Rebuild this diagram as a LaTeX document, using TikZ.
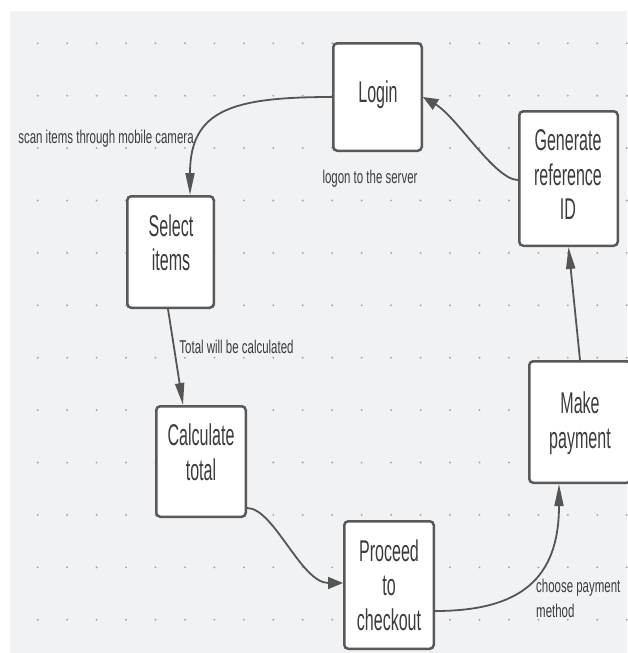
\documentclass[tikz,border=0pt]{standalone}
\usepackage{fontspec}
\setmainfont{Liberation Sans}[FakeStretch=0.56]
\newfontfamily\boxfont{Liberation Sans}[FakeStretch=0.535]
\newfontfamily\lblfont{Liberation Sans}[FakeStretch=0.62]
\usetikzlibrary{arrows.meta}
\definecolor{bgc}{HTML}{F1F2F4}
\definecolor{dotc}{HTML}{A8A9AD}
\definecolor{boxc}{HTML}{595959}
\definecolor{linec}{HTML}{555555}
\definecolor{txtc}{HTML}{3C3C3C}
\tikzset{
  box/.style={draw=boxc, fill=white, line width=2.5pt, rounded corners=4pt, inner sep=0pt},
  boxtext/.style={text=txtc, font=\boxfont\fontsize{30}{34.5}\selectfont, align=center, inner sep=0pt},
  lbl/.style={text=txtc, font=\lblfont\fontsize{18.5}{25}\selectfont, inner sep=0pt},
  conn/.style={draw=linec, line width=1.8pt},
  vtip/.style={-{Triangle[length=22pt,width=9pt]}},
  htip/.style={-{Triangle[length=15pt,width=12pt]}}
}
\begin{document}
\begin{tikzpicture}[x=1pt,y=-1pt]
\useasboundingbox (0,0) rectangle (627,653);
\fill[white] (0,0) rectangle (627,653);
\fill[bgc] (10,11) rectangle (627,653);
\foreach \i in {0,...,20}{
  \foreach \j in {0,...,11}{
    \fill[dotc] (37.7+29.45*\i, 43.3+52.4*\j) circle[radius=1.1pt];
  }
}
% boxes
\node[box, minimum width=88.5pt, minimum height=107.5pt] (login) at (377.5,97) {};
\node[box, minimum width=98.5pt, minimum height=134.5pt] (gen) at (568.5,178.5) {};
\node[box, minimum width=86.5pt, minimum height=111.5pt] (select) at (170.5,252) {};
\node[box, minimum width=89.5pt, minimum height=110.5pt] (calc) at (201,461.5) {};
\node[box, minimum width=89.5pt, minimum height=127.5pt] (proceed) at (389,585) {};
\node[box, minimum width=101.5pt, minimum height=121.5pt] (make) at (580,422) {};
% box texts
\node[boxtext] (loginT) at (378,95) {Login};
\node[boxtext] (genT) at (568,175) {Generate\\reference\\ID};
\node[boxtext] (selectT) at (171,243) {Select\\items};
\node[boxtext] (calcT) at (201,452.5) {Calculate\\total};
\node[boxtext] (proceedT) at (389,585) {Proceed\\to\\checkout};
\node[boxtext] (makeT) at (580,423) {Make\\payment};
% labels
\node[lbl] (l1) at (106,138.5) {scan items through mobile camera};
\node[lbl] (l2) at (370,179) {logon to the server};
\node[lbl] (l3) at (236.5,347) {Total will be calculated};
\node[lbl, align=left, anchor=north west] (l4) at (536,579) {choose payment\\method};
% connectors
\draw[conn, vtip] (login.west) .. controls +(-100,0) and +(0,-85) .. ([xshift=19.5pt]select.north);
\draw[conn, vtip] ([xshift=-2.5pt]select.south) -- ([xshift=-18pt]calc.north);
\draw[conn, htip] ([yshift=-46.5pt]calc.east) .. controls +(27,0) and +(-42,0) .. ([yshift=2pt]proceed.west);
\draw[conn, vtip] ([yshift=-26pt]proceed.east) .. controls +(84,0) and +(0,96) .. ([xshift=-21pt]make.south);
\draw[conn, vtip] (make.north) -- (gen.south);
\draw[conn, htip] ([yshift=-1.5pt]gen.west) .. controls +(-23,0) and +(34,20) .. (login.east);
\end{tikzpicture}
\end{document}
